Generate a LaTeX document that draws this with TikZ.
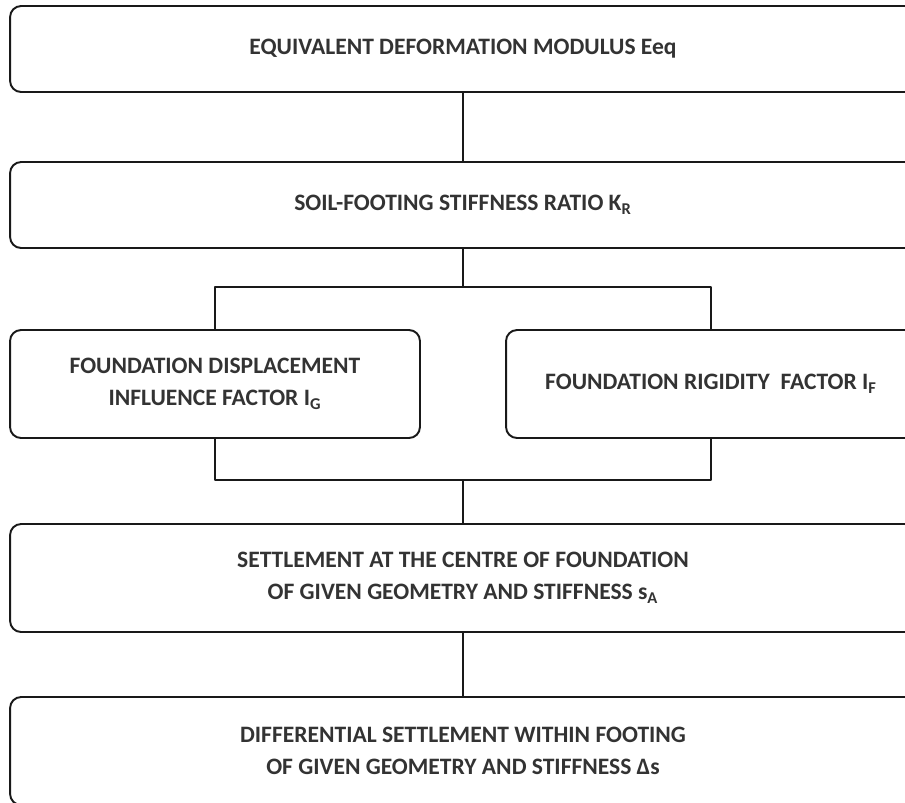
\documentclass[tikz,border=0pt]{standalone}
\usepackage{fontspec}
\setmainfont{Carlito}
\begin{document}
\begin{tikzpicture}[line cap=round,line join=round,x=0.02cm,y=-0.02cm,
	stage/.style={draw=black!90,line width=1.1pt,rounded corners=0.22cm,minimum width=18.12cm,minimum height=1.72cm,
		align=center,inner sep=0pt,text=black!80,font=\fontsize{13.4}{18.3}\selectfont\bfseries},
	tall/.style={minimum height=2.16cm},
	half/.style={minimum width=8.2cm},
	link/.style={draw=black!90,line width=0.9pt}]
		\useasboundingbox (0,0) rectangle (905,802);
		\clip (0,0) rectangle (905,802);
		% stages
		\node[stage] (eeq) at (463,49) {EQUIVALENT DEFORMATION MODULUS Eeq};
		\node[stage] (kr) at (463,205) {SOIL-FOOTING STIFFNESS RATIO K\textsubscript{R}};
		\node[stage,tall,half] (ig) at (215,384) {FOUNDATION DISPLACEMENT\\INFLUENCE FACTOR I\textsubscript{G}};
		\node[stage,tall,half] (if) at (711,384) {FOUNDATION RIGIDITY~ FACTOR I\textsubscript{F}};
		\node[stage,tall] (sa) at (463,578) {SETTLEMENT AT THE CENTRE OF FOUNDATION\\OF GIVEN GEOMETRY AND STIFFNESS s\textsubscript{A}};
		\node[stage,tall] (ds) at (463,751) {DIFFERENTIAL SETTLEMENT WITHIN FOOTING\\OF GIVEN GEOMETRY AND STIFFNESS Δs};
		% connectors
		\coordinate (split) at (463,287);
		\coordinate (merge) at (463,480);
		\draw[link] (eeq.south) -- (kr.north);
		\draw[link] (kr.south) -- (split);
		\draw[link] (ig.north) |- (split) -| (if.north);
		\draw[link] (ig.south) |- (merge) -| (if.south);
		\draw[link] (merge) -- (sa.north);
		\draw[link] (sa.south) -- (ds.north);
	\end{tikzpicture}
\end{document}
